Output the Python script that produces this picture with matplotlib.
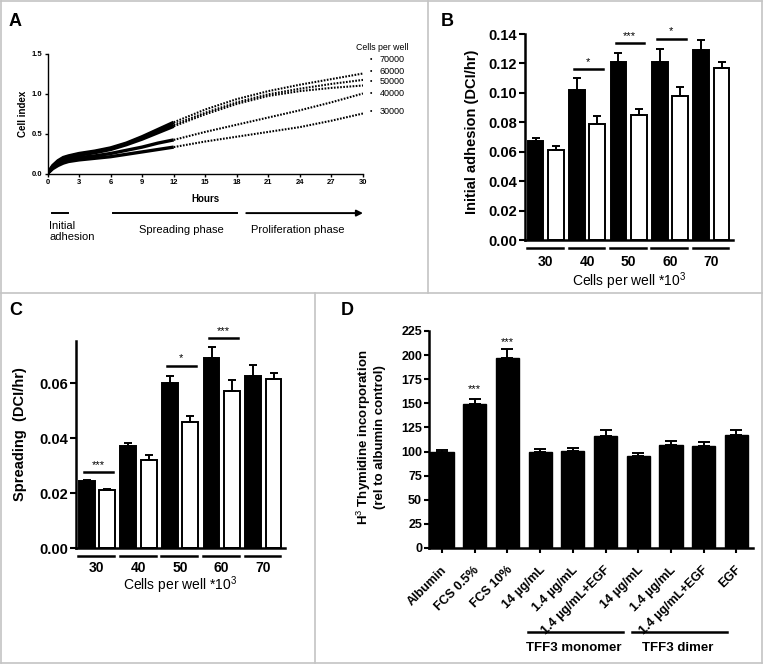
import numpy as np
import matplotlib
matplotlib.use('Agg')
import matplotlib.pyplot as plt
from matplotlib.lines import Line2D
from matplotlib import transforms

plt.rcParams['font.family'] = ['Liberation Sans', 'DejaVu Sans']
plt.rcParams['mathtext.fontset'] = 'custom'
plt.rcParams['mathtext.rm'] = 'Liberation Sans'
plt.rcParams['mathtext.bf'] = 'Liberation Sans:bold'

W, H = 764, 666

# ---- panel A: cell index over time
hours = [0, 0.5, 1, 1.5, 2, 3, 4.5, 6, 7.5, 9, 10.5, 12, 15, 18, 21, 24, 27, 30]
ci_70000 = [0, 0.10, 0.16, 0.20, 0.22, 0.25, 0.28, 0.32, 0.38, 0.46, 0.55, 0.64, 0.80, 0.93, 1.03, 1.11, 1.18, 1.25]
ci_60000 = [0, 0.09, 0.15, 0.19, 0.21, 0.24, 0.27, 0.31, 0.37, 0.45, 0.53, 0.61, 0.76, 0.89, 0.99, 1.06, 1.12, 1.17]
ci_50000 = [0, 0.08, 0.14, 0.18, 0.20, 0.23, 0.26, 0.30, 0.36, 0.43, 0.51, 0.59, 0.74, 0.87, 0.97, 1.03, 1.07, 1.10]
ci_40000 = [0, 0.07, 0.12, 0.15, 0.17, 0.20, 0.22, 0.25, 0.29, 0.33, 0.38, 0.42, 0.52, 0.61, 0.70, 0.79, 0.89, 1.00]
ci_30000 = [0, 0.06, 0.10, 0.13, 0.15, 0.17, 0.19, 0.21, 0.24, 0.27, 0.30, 0.33, 0.40, 0.46, 0.52, 0.58, 0.66, 0.75]
cell_counts = ['70000', '60000', '50000', '40000', '30000']

phase_names = ['Initial\nadhesion', 'Spreading phase', 'Proliferation phase']
phase_start = [0.45, 6.25, 18.9]
phase_end = [1.97, 18.0, 30.0]

# ---- panels B and C: paired bars per seeding density
groups = ['30', '40', '50', '60', '70']
adh_black = [0.067, 0.102, 0.121, 0.121, 0.129]
adh_black_err = [0.002, 0.008, 0.006, 0.009, 0.007]
adh_white = [0.061, 0.079, 0.085, 0.098, 0.117]
adh_white_err = [0.003, 0.005, 0.004, 0.006, 0.004]
adh_sig_group = [1, 2, 3]
adh_sig_y = [0.116, 0.1337, 0.1368]
adh_sig_text = ['*', '***', '*']

spr_black = [0.0245, 0.0372, 0.060, 0.069, 0.0625]
spr_black_err = [0.0003, 0.0010, 0.0025, 0.0040, 0.0040]
spr_white = [0.021, 0.032, 0.046, 0.057, 0.0615]
spr_white_err = [0.0005, 0.0018, 0.0020, 0.0040, 0.0022]
spr_sig_group = [0, 2, 3]
spr_sig_y = [0.0275, 0.0662, 0.0763]
spr_sig_text = ['***', '*', '***']

# ---- panel D: thymidine incorporation
treatments = ['Albumin', 'FCS 0.5%', 'FCS 10%', '14 µg/mL', '1.4 µg/mL', '1.4 µg/mL+EGF',
              '14 µg/mL', '1.4 µg/mL', '1.4 µg/mL+EGF', 'EGF']
thymidine = [100, 149, 197, 99.5, 101, 116, 95, 107, 106, 117]
thymidine_err = [2, 6, 9, 3, 3, 6, 3, 4, 4, 5]
thy_sig_idx = [1, 2]
thy_sig_y = [165, 213]
tff_names = ['TFF3 monomer', 'TFF3 dimer']
tff_start = [2.62, 5.80]
tff_end = [5.53, 8.71]


def fx(x):
    return x / W


def fy(y):
    return 1 - y / H


def style_axes(ax, lw):
    for s in ['top', 'right']:
        ax.spines[s].set_visible(False)
    for s in ['left', 'bottom']:
        ax.spines[s].set_linewidth(lw)


def paired_bars(ax, black, black_err, white, white_err, sig_group, sig_y, sig_text, ylim, yticks, lab_pad, xlab_y):
    x = np.arange(len(groups))
    n = len(groups)
    ax.bar(x - 0.245, black, 0.38, color='black', edgecolor='black', lw=1.4)
    ax.bar(x + 0.245, white, 0.38, color='white', edgecolor='black', lw=1.4)
    ax.errorbar(x - 0.245, black, yerr=[np.zeros(n), black_err], fmt='none', ecolor='black',
                elinewidth=1.4, capsize=3.2, capthick=1.4)
    ax.errorbar(x + 0.245, white, yerr=[np.zeros(n), white_err], fmt='none', ecolor='black',
                elinewidth=1.4, capsize=3.2, capthick=1.4)
    ax.set_xlim(-0.5, 4.52)
    ax.set_ylim(*ylim)
    ax.set_yticks(yticks)
    ax.set_yticklabels(['%.2f' % v for v in yticks])
    ax.set_xticks(x)
    ax.set_xticklabels(groups)
    ax.tick_params(axis='x', length=0, pad=lab_pad, labelsize=10)
    ax.tick_params(axis='y', length=4, width=1.5, labelsize=10.5, pad=1.5)
    for lab in ax.get_xticklabels() + ax.get_yticklabels():
        lab.set_fontweight('bold')
    style_axes(ax, 1.8)
    tr = transforms.blended_transform_factory(ax.transData, ax.transAxes)
    for xi in x:
        ax.plot([xi - 0.45, xi + 0.41], [-0.04, -0.04], color='black', lw=1.8,
                transform=tr, clip_on=False)
    for g, yv, t in zip(sig_group, sig_y, sig_text):
        ax.plot([g - 0.31, g + 0.38], [yv, yv], color='black', lw=1.8, clip_on=False)
        ax.text(g + 0.03, yv + (ylim[1] * 0.012), t, ha='center', va='bottom', fontsize=8,
                clip_on=False)
    ax.set_xlabel('Cells per well *10$^3$', fontsize=10)
    ax.xaxis.set_label_coords(0.5, xlab_y)


fig = plt.figure(figsize=(W / 100, H / 100), dpi=100)

# panel A
axA = fig.add_axes([fx(47.5), fy(173.5), (363 - 47.5) / W, 120 / H])
series = [ci_70000, ci_60000, ci_50000, ci_40000, ci_30000]
h = np.array(hours)
early = h <= 12
late = h >= 12
for s in series:
    s = np.array(s)
    axA.plot(h[early], s[early], color='black', lw=2.4, solid_capstyle='butt')
    axA.plot(h[late], s[late], color='black', lw=1.5, linestyle=(0, (0.8, 0.7)))
axA.set_xlim(0, 30)
axA.set_ylim(0, 1.5)
axA.set_xticks(np.arange(0, 31, 3))
axA.set_yticks([0, 0.5, 1.0, 1.5])
axA.set_yticklabels(['0.0', '0.5', '1.0', '1.5'])
axA.tick_params(length=2.5, width=1, labelsize=5.5, pad=1.5)
for lab in axA.get_xticklabels() + axA.get_yticklabels():
    lab.set_fontweight('bold')
style_axes(axA, 1.0)
axA.set_xlabel('Hours', fontsize=7, fontweight='bold')
axA.xaxis.set_label_coords(0.5, -0.17)
axA.set_ylabel('Cell index', fontsize=7, fontweight='bold')
axA.yaxis.label.set_va('center')
axA.yaxis.set_label_coords(-0.078, 0.5)

trA = transforms.blended_transform_factory(axA.transData, axA.transAxes)
for i, (name, a, b) in enumerate(zip(phase_names, phase_start, phase_end)):
    if i == 2:
        axA.annotate('', xy=(b, -0.33), xytext=(a, -0.33), xycoords=trA, textcoords=trA,
                     arrowprops=dict(arrowstyle='-|>', color='black', lw=1.4,
                                     mutation_scale=9, shrinkA=0, shrinkB=0))
    else:
        axA.plot([a, b], [-0.33, -0.33], color='black', lw=1.4, transform=trA, clip_on=False)
axA.text(0.15, -0.40, phase_names[0], transform=trA, ha='left', va='top', fontsize=8,
         linespacing=1.05)
axA.text(12.7, -0.47, phase_names[1], transform=trA, ha='center', va='center', fontsize=8)
axA.text(23.8, -0.47, phase_names[2], transform=trA, ha='center', va='center', fontsize=8)

fig.text(fx(356), fy(47), 'Cells per well', fontsize=6.3, ha='left', va='center')
leg_y = [60, 71, 82, 93, 112]
for lab, yy in zip(cell_counts, leg_y):
    fig.text(fx(371), fy(yy), '•', fontsize=5, ha='center', va='center')
    fig.text(fx(380), fy(yy), lab, fontsize=6.5, ha='left', va='center')

# panel B
axB = fig.add_axes([fx(525), fy(240), 208 / W, 206 / H])
paired_bars(axB, adh_black, adh_black_err, adh_white, adh_white_err,
            adh_sig_group, adh_sig_y, adh_sig_text, (0, 0.14),
            [0, 0.02, 0.04, 0.06, 0.08, 0.10, 0.12, 0.14], 11, -0.15)
axB.set_ylabel('Initial adhesion (DCI/hr)', fontsize=10.5, fontweight='bold')
axB.yaxis.label.set_va('center')
axB.yaxis.set_label_coords(-0.255, 0.524)

# panel C
axC = fig.add_axes([fx(76), fy(548), 209 / W, 207 / H])
paired_bars(axC, spr_black, spr_black_err, spr_white, spr_white_err,
            spr_sig_group, spr_sig_y, spr_sig_text, (0, 0.0753),
            [0, 0.02, 0.04, 0.06], 9, -0.128)
axC.set_ylabel('Spreading  (DCI/hr)', fontsize=10.5, fontweight='bold')
axC.yaxis.label.set_va('center')
axC.yaxis.set_label_coords(-0.268, 0.55)

# panel D
axD = fig.add_axes([fx(429), fy(548), 324 / W, 217 / H])
xd = np.arange(len(treatments))
axD.bar(xd, thymidine, 0.71, color='black', edgecolor='black', lw=1)
axD.errorbar(xd, thymidine, yerr=[np.zeros(len(xd)), thymidine_err], fmt='none', ecolor='black',
             elinewidth=1.4, capsize=4.5, capthick=1.4)
for i, yv in zip(thy_sig_idx, thy_sig_y):
    axD.text(i, yv, '***', ha='center', va='center', fontsize=8, clip_on=False)
axD.set_xlim(-0.4, 9.51)
axD.set_ylim(0, 225)
axD.set_yticks(np.arange(0, 226, 25))
axD.set_xticks(xd)
axD.set_xticklabels(treatments, rotation=45, ha='right', va='center', rotation_mode='anchor')
axD.tick_params(axis='x', length=3.5, width=1.5, labelsize=9, pad=11)
axD.tick_params(axis='y', length=3.5, width=1.5, labelsize=9, pad=1.5)
off = transforms.ScaledTranslation(3 / 100, 0, fig.dpi_scale_trans)
for lab in axD.get_xticklabels():
    lab.set_transform(lab.get_transform() + off)
for lab in axD.get_xticklabels() + axD.get_yticklabels():
    lab.set_fontweight('bold')
style_axes(axD, 1.8)
axD.set_ylabel('H$^3$ Thymidine incorporation\n(rel to albumin control)', fontsize=9.5,
               fontweight='bold', linespacing=1.1)
axD.yaxis.label.set_va('center')
axD.yaxis.set_label_coords(-0.182, 0.51)
trD = transforms.blended_transform_factory(axD.transData, axD.transAxes)
for name, a, b in zip(tff_names, tff_start, tff_end):
    axD.plot([a, b], [-0.387, -0.387], color='black', lw=1.8, transform=trD, clip_on=False)
    axD.text((a + b) / 2 - 0.05, -0.46, name, transform=trD, ha='center', va='center',
             fontsize=9.5, fontweight='bold')

# panel letters
for lab, (px, py) in zip('ABCD', [(15, 22), (447, 21), (16, 310), (347, 310)]):
    fig.text(fx(px), fy(py), lab, fontsize=13, fontweight='bold', ha='center', va='center')

# panel frame lines
gray = '#c4c4c4'
frame = [((1, 1), (762, 1)), ((1, 663), (762, 663)), ((1, 1), (1, 663)), ((762, 1), (762, 663)),
         ((1, 293), (762, 293)), ((428, 1), (428, 293)), ((315, 293), (315, 663))]
for (x0, y0), (x1, y1) in frame:
    fig.add_artist(Line2D([fx(x0), fx(x1)], [fy(y0), fy(y1)], color=gray, lw=1.2,
                          transform=fig.transFigure))

fig.savefig('out.png', dpi=100)
